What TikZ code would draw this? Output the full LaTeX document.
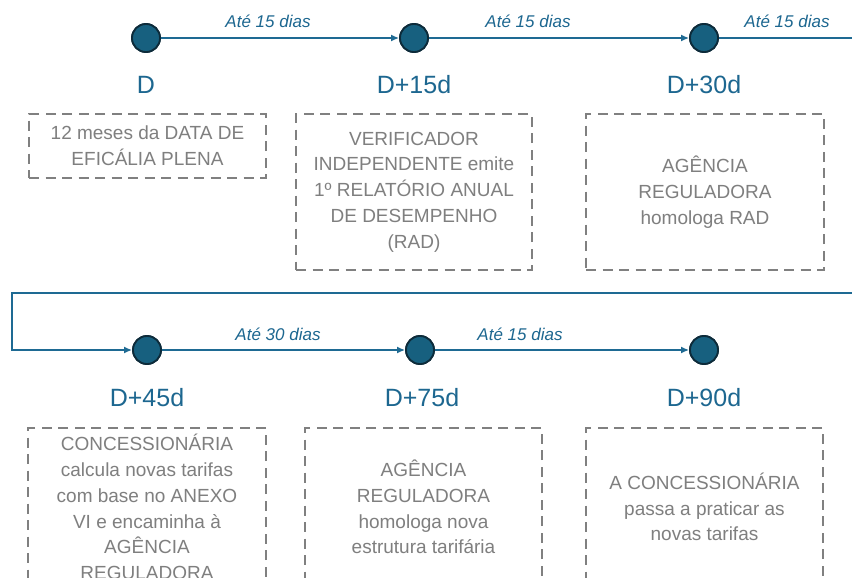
\documentclass[tikz,border=0pt]{standalone}
\usepackage{fontspec}
\setmainfont{Liberation Sans}
\usetikzlibrary{arrows.meta}
\definecolor{tline}{HTML}{1E6A93}
\definecolor{tdot}{HTML}{17607F}
\definecolor{tdotb}{HTML}{0D2B3A}
\definecolor{ttext}{HTML}{1D6790}
\definecolor{gbox}{HTML}{808080}
\definecolor{gtext}{HTML}{7F7F7F}
\tikzset{
  dot/.style={circle, fill=tdot, draw=tdotb, line width=1.8pt, minimum size=28pt, inner sep=0pt},
  conn/.style={draw=tline, line width=2pt},
  arr/.style={conn, -{Latex[length=8pt,width=7pt]}},
  daylab/.style={text=ttext, font=\fontsize{25}{28}\selectfont, inner sep=0pt},
  dur/.style={text=ttext, font=\fontsize{17}{20}\selectfont\itshape, inner sep=0pt},
  infobox/.style={draw=gbox, line width=2.3pt, dash pattern=on 10pt off 6.5pt, text=gtext,
    font=\fontsize{19}{25.8}\selectfont, align=center, inner sep=0pt}
}
\begin{document}
\begin{tikzpicture}[x=1pt,y=-1pt]
\useasboundingbox (0,0) rectangle (852,578);
\clip (0,0) rectangle (852,578);
\fill[white] (0,0) rectangle (852,578);

% coordinates for the wrapping connector
\coordinate (outA) at (870,38);
\coordinate (inB) at (870,293);
\coordinate (c1) at (12,293);
\coordinate (c2) at (12,350);

% dots
\node[dot] (d0) at (146,38) {};
\node[dot] (d1) at (414,38) {};
\node[dot] (d2) at (704,38) {};
\node[dot] (d3) at (147,350) {};
\node[dot] (d4) at (420,350) {};
\node[dot] (d5) at (704,350) {};

% connectors
\draw[arr] (d0) -- (d1);
\draw[arr] (d1) -- (d2);
\draw[conn] (d2) -- (outA);
\draw[arr] (inB) -- (c1) -- (c2) -- (d3);
\draw[arr] (d3) -- (d4);
\draw[arr] (d4) -- (d5);
\foreach \n in {d0,d1,d2,d3,d4,d5} \node[dot] at (\n) {};

% durations
\node[dur] (t0) at (268,21) {Até 15 dias};
\node[dur] (t1) at (528,21) {Até 15 dias};
\node[dur] (t2) at (787,21) {Até 15 dias};
\node[dur] (t3) at (278,334) {Até 30 dias};
\node[dur] (t4) at (520,334) {Até 15 dias};

% day labels
\node[daylab] (l0) at (146,85) {D};
\node[daylab] (l1) at (414,85) {D+15d};
\node[daylab] (l2) at (704,85) {D+30d};
\node[daylab] (l3) at (147,398) {D+45d};
\node[daylab] (l4) at (422,398) {D+75d};
\node[daylab] (l5) at (704,398) {D+90d};

% boxes
\node[infobox, minimum width=237pt, minimum height=64pt] (b0) at (147.5,146)
  {12 meses da DATA DE\\EFICÁLIA PLENA};
\node[infobox, minimum width=236pt, minimum height=156pt] (b1) at (414,192)
  {VERIFICADOR\\INDEPENDENTE emite\\1º RELATÓRIO ANUAL\\DE DESEMPENHO\\(RAD)};
\node[infobox, minimum width=238pt, minimum height=156pt] (b2) at (705,192)
  {AGÊNCIA\\REGULADORA\\homologa RAD};
\node[infobox, minimum width=238pt, minimum height=158pt] (b3) at (147,507)
  {CONCESSIONÁRIA\\calcula novas tarifas\\com base no ANEXO\\VI e encaminha à\\AGÊNCIA\\REGULADORA};
\node[infobox, minimum width=237pt, minimum height=158pt] (b4) at (423.5,507)
  {AGÊNCIA\\REGULADORA\\homologa nova\\estrutura tarifária};
\node[infobox, minimum width=237pt, minimum height=158pt] (b5) at (704.5,507)
  {A CONCESSIONÁRIA\\passa a praticar as\\novas tarifas};
\end{tikzpicture}
\end{document}
